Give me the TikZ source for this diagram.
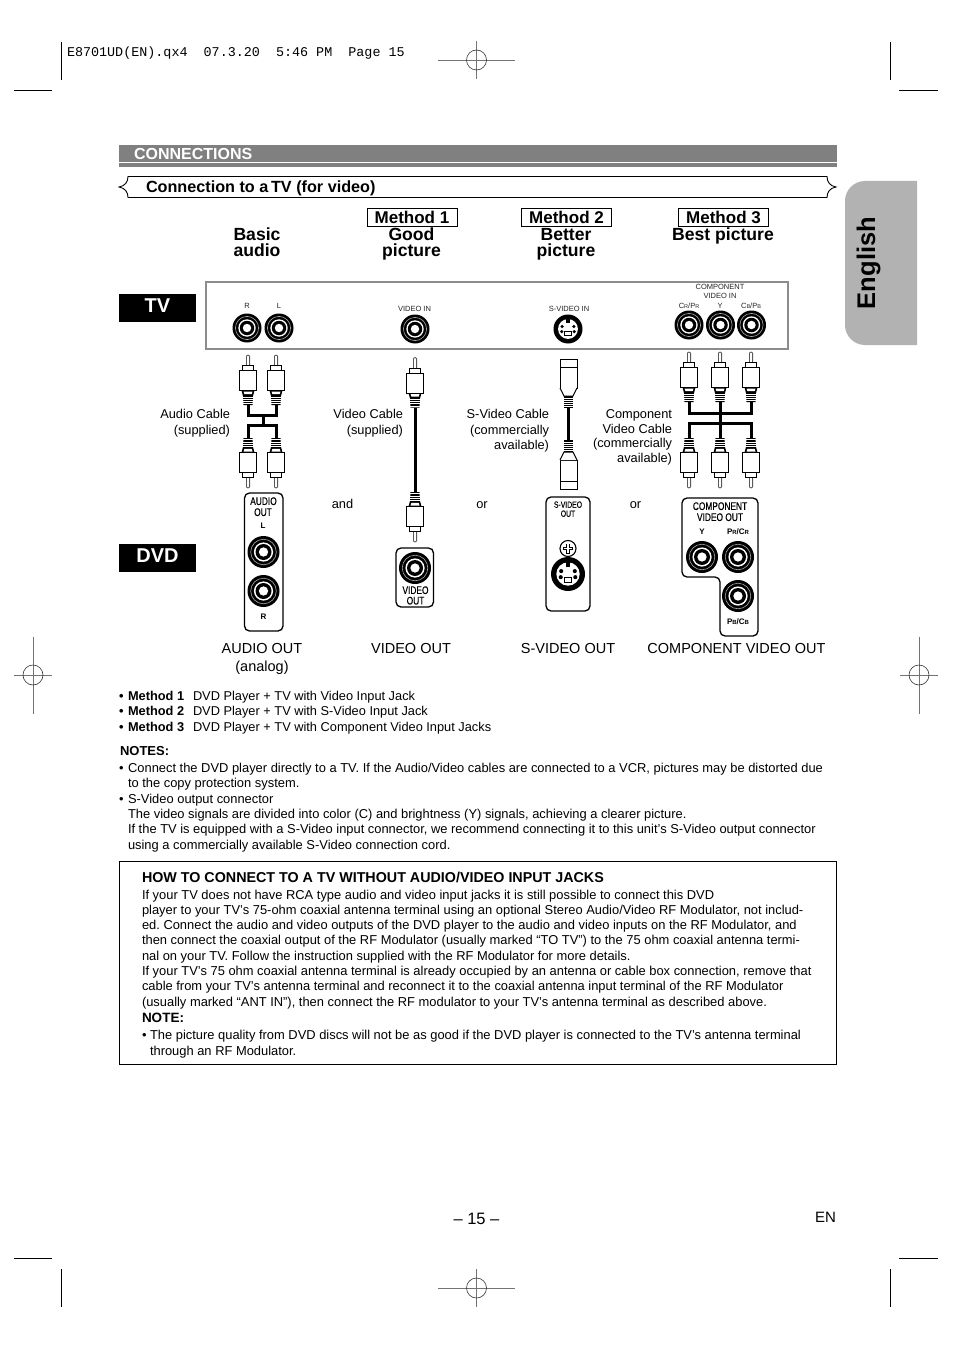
\documentclass[tikz,border=0pt]{standalone}
\usepackage{fontspec}
\setmainfont{Liberation Sans}
\newfontfamily\typewr{Liberation Mono}
\newfontfamily\narrowf[FakeStretch=0.76,FakeBold=0.3]{Liberation Sans}
\newcommand\fs[1]{\frenchspacing\fontsize{#1}{#1}\selectfont}
\tikzset{
 txt/.style={inner sep=0pt,outer sep=0pt,text height=7.2pt,text depth=0pt},
 tl/.style={txt,anchor=west},
 tr/.style={txt,anchor=east},
 tc/.style={txt,anchor=center},
 fsz/.style={font=\fs{#1},yshift={3.6pt-0.36pt*#1}},
 bsz/.style={font=\bfseries\fs{#1},yshift={3.6pt-0.36pt*#1}},
 nsz/.style={font=\narrowf\fs{#1},yshift={3.6pt-0.36pt*#1}},
 bodytxt/.style={fsz=12.9},
 listtxt/.style={fsz=12.8},
 captxt/.style={fsz=12.8},
 headb/.style={bsz=17.6},
 outtxt/.style={fsz=14.5},
 smalltxt/.style={fsz=7.5,text=black!85},
 nar/.style={nsz=11},
 narb/.style={bsz=8},
 cable/.style={line width=3pt,line cap=butt,line join=miter},
 cropline/.style={line width=.7pt,black},
 regline/.style={line width=.6pt,black!55},
 plugline/.style={line width=1pt,black,fill=white},
 dvdpanel/.style={line width=1.3pt,black,rounded corners=5pt},
 methodbox/.style={draw,line width=.9pt,minimum width=90pt,minimum height=18pt,inner sep=0pt,text height=12.2pt,text depth=0pt,font=\bfseries\fs{17}},
 blackbox/.style={fill=black,text=white,minimum width=77pt,minimum height=28pt,inner sep=0pt,text height=14.4pt,text depth=6pt,font=\bfseries\fs{20}},
}
% RCA jack
\newcommand\jack[4]{%
 \node[circle,fill=black,minimum size=2*#4 pt,inner sep=0pt] (#1) at (#2,#3) {};
 \draw[black!35,line width=.6pt] (#1.center) circle[radius=.8*#4 pt];
 \fill[white] (#1.center) circle[radius=.6*#4 pt];
 \fill[black] (#1.center) circle[radius=.5*#4 pt];
 \fill[white] (#1.center) circle[radius=.29*#4 pt];
}
% S-video jack
\newcommand\sjack[4]{%
 \node[circle,fill=black,minimum size=2*#4 pt,inner sep=0pt] (#1) at (#2,#3) {};
 \begin{scope}[shift={(#2,#3)},scale=#4/14]
 \fill[white] (0,0) circle[radius=9.6pt];
 \fill[black] (-2,-9.6) rectangle (2,-6);
 \fill[black] (-5.6,-2.4) circle[radius=1.7pt] (5.6,-2.4) circle[radius=1.7pt] (-6,2.6) circle[radius=1.7pt] (6,2.6) circle[radius=1.7pt];
 \draw[black,line width=.9pt,fill=white] (-3.2,2.8) rectangle (3.2,6.6);
 \end{scope}
}
% RCA plug: name, x, tip y, direction (1: tip up, -1: tip down)
\newcommand\rcaplug[4]{%
 \begin{scope}[shift={(#2,#3)},yscale=#4]
 \draw[line width=.8pt,black!65,fill=white] (-1.6,11) -- (-1.6,1) -- (0,0) -- (1.6,1) -- (1.6,11);
 \draw[plugline] (-5.5,16) -- (-5.5,10.5) -- (5.5,10.5) -- (5.5,16);
 \draw[plugline] (-8.2,15.5) rectangle (8.2,35.5);
 \fill[black] (-6.5,35.5) -- (6.5,35.5) -- (5,41) -- (4.5,50) -- (-4.5,50) -- (-5,41) -- cycle;
 \fill[white] (-4.5,36.5) -- (4.5,36.5) -- (3.6,39.2) -- (-3.6,39.2) -- cycle;
 \foreach \q in {41.8,44,46.2,48.4} \draw[white,line width=.6pt] (-6,\q) -- (6,\q);
 \coordinate (#1) at (0,50);
 \end{scope}
}
% S-video plug
\newcommand\splug[4]{%
 \begin{scope}[shift={(#2,#3)},yscale=#4]
 \draw[plugline] (-8.5,0) rectangle (8.5,29);
 \draw[line width=.8pt] (-8.5,8) -- (8.5,8);
 \draw[plugline] (-8.5,29) -- (-4.5,37) -- (4.5,37) -- (8.5,29);
 \fill[black] (-4.5,37) rectangle (4.5,49);
 \foreach \q in {39,41,43,45,47} \draw[white,line width=.6pt] (-5,\q) -- (5,\q);
 \coordinate (#1) at (0,49);
 \end{scope}
}
% registration mark: name, x, y, half width, half height
\newcommand\regmark[5]{%
 \coordinate (#1) at (#2,#3);
 \draw[regline] (#2-#4,#3) -- (#2+#4,#3) (#2,#3-#5) -- (#2,#3+#5);
 \draw[line width=.6pt,black!80] (#1) circle[radius=10pt];
}
\begin{document}
\begin{tikzpicture}[x=1pt,y=-1pt]
\useasboundingbox (0,0) rectangle (954,1351);
\fill[white] (0,0) rectangle (954,1351);

% printer marks
\draw[cropline] (61,42) -- (61,80) (890,42) -- (890,80) (61,1269) -- (61,1307) (890,1269) -- (890,1307);
\draw[cropline] (14,90.5) -- (52,90.5) (899,90.5) -- (938,90.5) (14,1258.5) -- (52,1258.5) (899,1258.5) -- (938,1258.5);
\regmark{ra}{476.5}{60}{38.5}{19}
\regmark{rb}{476.5}{1288}{38.5}{19}
\regmark{rc}{33}{675}{19}{38.5}
\regmark{rd}{919}{675}{19}{38.5}
\node[tl,font=\typewr\fs{13.4},yshift=-1pt] (slug) at (67,52) {E8701UD(EN).qx4~~07.3.20~~5:46~PM~~Page~15};

% English tab
\fill[black!30] (917,181) -- (865,181) arc[start angle=90,end angle=180,radius=20pt] -- (845,325) arc[start angle=180,end angle=270,radius=20pt] -- (917,345) -- cycle;
\node[txt,anchor=center,rotate=90,font=\bfseries\fs{25.5}] (eng) at (871.5,263) {English};

% section bar
\fill[black!50] (119,145) rectangle (837,162);
\fill[black!50] (119,163.5) rectangle (837,167);
\node[tl,bsz=16,text=white] (conn) at (134,153.5) {CONNECTIONS};
% banner
\draw[line width=.9pt] (128,176.5) -- (827,176.5) .. controls (827,182) and (830,186) .. (836,187) .. controls (830,188) and (827,192) .. (827,197.5) -- (128,197.5) .. controls (128,192) and (125,188) .. (119,187) .. controls (125,186) and (128,182) .. (128,176.5) -- cycle;
\node[tl,bsz=16.2] (conv) at (146,186.5) {Connection to a\,TV (for video)};

% method headers
\node[methodbox] (m1) at (412,217) {Method 1};
\node[methodbox] (m2) at (566.5,217) {Method 2};
\node[methodbox] (m3) at (723.5,217) {Method 3};
\node[tc,headb] (h0a) at (257,234) {Basic};
\node[tc,headb] (h0b) at (257,250) {audio};
\node[tc,headb] (h1a) at (411.5,234) {Good};
\node[tc,headb] (h1b) at (411.5,250) {picture};
\node[tc,headb] (h2a) at (566,234) {Better};
\node[tc,headb] (h2b) at (566,250) {picture};
\node[tc,headb] (h3a) at (723,234) {Best picture};

\node[blackbox] (tv) at (157.5,308) {TV};
\node[blackbox] (dvd) at (157.5,558) {DVD};

% TV panel
\draw[line width=1.6pt,black!45] (206,282) rectangle (788,349);
\jack{tvr}{247}{328}{14.5}
\jack{tvl}{279}{328}{14.5}
\jack{tvv}{415}{329}{14.5}
\sjack{tvs}{568}{329}{14.5}
\jack{tvc1}{689}{325}{14.5}
\jack{tvc2}{720.5}{325}{14.5}
\jack{tvc3}{751.5}{325}{14.5}
\node[tc,smalltxt] (l1) at (247,306) {R};
\node[tc,smalltxt] (l2) at (279,306) {L};
\node[tc,smalltxt] (l3) at (414.5,309) {VIDEO IN};
\node[tc,smalltxt] (l4) at (569,309) {S-VIDEO IN};
\node[tc,smalltxt] (l5) at (720,286.5) {COMPONENT};
\node[tc,smalltxt] (l6) at (720,295.5) {VIDEO IN};
\node[tc,smalltxt] (l7) at (689,306) {C{\fs{5.5}R}/P{\fs{5.5}R}};
\node[tc,smalltxt] (l8) at (720,306) {Y};
\node[tc,smalltxt] (l9) at (751,306) {C{\fs{5.5}B}/P{\fs{5.5}B}};

% audio cable
\rcaplug{at1}{248}{355}{1}
\rcaplug{at2}{276}{355}{1}
\rcaplug{ab1}{248}{488}{-1}
\rcaplug{ab2}{276}{488}{-1}
\coordinate (aj1) at (263,415);
\coordinate (aj2) at (263,425);
\draw[cable] (at1) |- (aj1) -| (at2);
\draw[cable] (aj1) -- (aj2);
\draw[cable] (ab1) |- (aj2) -| (ab2);

% video cable
\rcaplug{vt}{415}{357.5}{1}
\rcaplug{vb}{415}{542}{-1}
\draw[cable] (vt) -- (vb);

% s-video cable
\splug{st}{568.5}{359}{1}
\splug{sb}{568.5}{489}{-1}
\draw[cable] (st) -- (sb);

% component cable
\rcaplug{ct1}{689}{352}{1}
\rcaplug{ct2}{720}{352}{1}
\rcaplug{ct3}{751}{352}{1}
\rcaplug{cb1}{689}{488}{-1}
\rcaplug{cb2}{720}{488}{-1}
\rcaplug{cb3}{751}{488}{-1}
\coordinate (cj1) at (720,413);
\coordinate (cj2) at (720,423);
\draw[cable] (ct1) |- (cj1) -| (ct3);
\draw[cable] (ct2) -- (cb2);
\draw[cable] (cb1) |- (cj2) -| (cb3);

% cable captions
\node[tr,captxt] (c1) at (230,414) {Audio Cable};
\node[tr,captxt] (c2) at (230,430) {(supplied)};
\node[tr,captxt] (c3) at (403,414) {Video Cable};
\node[tr,captxt] (c4) at (403,430) {(supplied)};
\node[tr,captxt] (c5) at (549,414) {S-Video Cable};
\node[tr,captxt] (c6) at (549,430) {(commercially};
\node[tr,captxt] (c7) at (549,445) {available)};
\node[tr,captxt] (c8) at (672,414) {Component};
\node[tr,captxt] (c9) at (672,429) {Video Cable};
\node[tr,captxt] (c10) at (672,443) {(commercially};
\node[tr,captxt] (c11) at (672,458) {available)};
\node[tc,captxt] (o1) at (342.5,504) {and};
\node[tc,captxt] (o2) at (482,504) {or};
\node[tc,captxt] (o3) at (635.5,504) {or};

% DVD panels
\draw[dvdpanel] (244.5,493) rectangle (283,631);
\node[tc,nar] (p1) at (263.5,501) {AUDIO};
\node[tc,nar] (p2) at (263,512) {OUT};
\node[tc,narb] (p3) at (263,526) {L};
\jack{da1}{263.5}{552}{16}
\jack{da2}{263.5}{591}{16}
\node[tc,narb] (p4) at (263.5,617) {R};

\draw[dvdpanel] (396,548) rectangle (433.5,607);
\jack{dv}{415}{568}{16}
\node[tc,nar] (p5) at (415.5,590) {VIDEO};
\node[tc,nar] (p6) at (415.5,600.5) {OUT};

\draw[dvdpanel] (546,497) rectangle (590,611);
\node[tc,nsz=9] (p7) at (568,504.5) {S-VIDEO};
\node[tc,nsz=9] (p8) at (568,513.5) {OUT};
\node[circle,draw,line width=1.1pt,minimum size=16pt,inner sep=0pt] (dscrew) at (568,548.5) {};
\draw[line width=3.4pt] (dscrew.center) ++(-5,0) -- ++(10,0) (dscrew.center) ++(0,-5) -- ++(0,10);
\draw[white,line width=1.5pt] (dscrew.center) ++(-4.4,0) -- ++(8.8,0) (dscrew.center) ++(0,-4.4) -- ++(0,8.8);
\sjack{ds}{568}{574}{17}

\draw[dvdpanel] (682,498) -- (758,498) -- (758,636) -- (720,636) -- (720,577) -- (682,577) -- cycle;
\node[tc,nar] (p9) at (720,506) {COMPONENT};
\node[tc,nar] (p10) at (720,517) {VIDEO OUT};
\node[tc,narb] (p11) at (702,532) {Y};
\node[tc,narb] (p12) at (738,532) {P{\fs{6}R}/C{\fs{6}R}};
\jack{dc1}{702}{557}{16}
\jack{dc2}{738}{557}{16}
\jack{dc3}{738}{596}{16}
\node[tc,narb] (p13) at (738,622) {P{\fs{6}B}/C{\fs{6}B}};

% output captions
\node[tc,outtxt] (q1) at (262,648) {AUDIO OUT};
\node[tc,outtxt] (q2) at (262,666) {(analog)};
\node[tc,outtxt] (q3) at (411,648) {VIDEO OUT};
\node[tc,outtxt] (q4) at (568,648) {S-VIDEO OUT};
\node[tc,outtxt] (q5) at (736.5,648) {COMPONENT VIDEO OUT};

% method list
\node[tl,listtxt] (b1) at (119,696) {\textbf{•\hspace{1pt} Method 1}};
\node[tl,listtxt] (b1a) at (193,696) {DVD Player + TV with Video Input Jack};
\node[tl,listtxt] (b2) at (119,711) {\textbf{•\hspace{1pt} Method 2}};
\node[tl,listtxt] (b2a) at (193,711) {DVD Player + TV with S-Video Input Jack};
\node[tl,listtxt] (b3) at (119,727) {\textbf{•\hspace{1pt} Method 3}};
\node[tl,listtxt] (b3a) at (193,727) {DVD Player + TV with Component Video Input Jacks};

% notes
\node[tl,bsz=13] (n0) at (120,751) {NOTES:};
\node[tl,bodytxt] (n1) at (119,768) {•\hspace{1pt} Connect the DVD player directly to a TV. If the Audio/Video cables are connected to a VCR, pictures may be distorted due};
\node[tl,bodytxt] (n2) at (128,783) {to the copy protection system.};
\node[tl,bodytxt] (n3) at (119,799) {•\hspace{1pt} S-Video output connector};
\node[tl,bodytxt] (n4) at (128,814) {The video signals are divided into color (C) and brightness (Y) signals, achieving a clearer picture.};
\node[tl,bodytxt] (n5) at (128,829) {If the TV is equipped with a S-Video input connector, we recommend connecting it to this unit’s S-Video output connector};
\node[tl,bodytxt] (n6) at (128,845) {using a commercially available S-Video connection cord.};

% RF box
\draw[line width=.8pt] (119.5,861) rectangle (836.5,1064.5);
\node[tl,bsz=14.3] (r0) at (142,877) {HOW TO CONNECT TO A TV WITHOUT AUDIO/VIDEO INPUT JACKS};
\node[tl,bodytxt] (r1) at (142,895) {If your TV does not have RCA type audio and video input jacks it is still possible to connect this DVD};
\node[tl,bodytxt] (r2) at (142,910) {player to your TV’s 75-ohm coaxial antenna terminal using an optional Stereo Audio/Video RF Modulator, not includ-};
\node[tl,bodytxt] (r3) at (142,925) {ed. Connect the audio and video outputs of the DVD player to the audio and video inputs on the RF Modulator, and};
\node[tl,bodytxt] (r4) at (142,940) {then connect the coaxial output of the RF Modulator (usually marked “TO TV”) to the 75 ohm coaxial antenna termi-};
\node[tl,bodytxt] (r5) at (142,956) {nal on your TV. Follow the instruction supplied with the RF Modulator for more details.};
\node[tl,bodytxt] (r6) at (142,971) {If your TV’s 75 ohm coaxial antenna terminal is already occupied by an antenna or cable box connection, remove that};
\node[tl,bodytxt] (r7) at (142,986) {cable from your TV’s antenna terminal and reconnect it to the coaxial antenna input terminal of the RF Modulator};
\node[tl,bodytxt] (r8) at (142,1002) {(usually marked “ANT IN”), then connect the RF modulator to your TV’s antenna terminal as described above.};
\node[tl,bsz=13.5] (r9) at (142,1018) {NOTE:};
\node[tl,bodytxt] (r10) at (142,1035) {• The picture quality from DVD discs will not be as good if the DVD player is connected to the TV’s antenna terminal};
\node[tl,bodytxt] (r11) at (150,1051) {through an RF Modulator.};

% footer
\node[tc,fsz=16.5] (pg) at (476.5,1219) {– 15 –};
\node[tr,fsz=15] (en) at (836,1217.5) {EN};
\end{tikzpicture}
\end{document}
